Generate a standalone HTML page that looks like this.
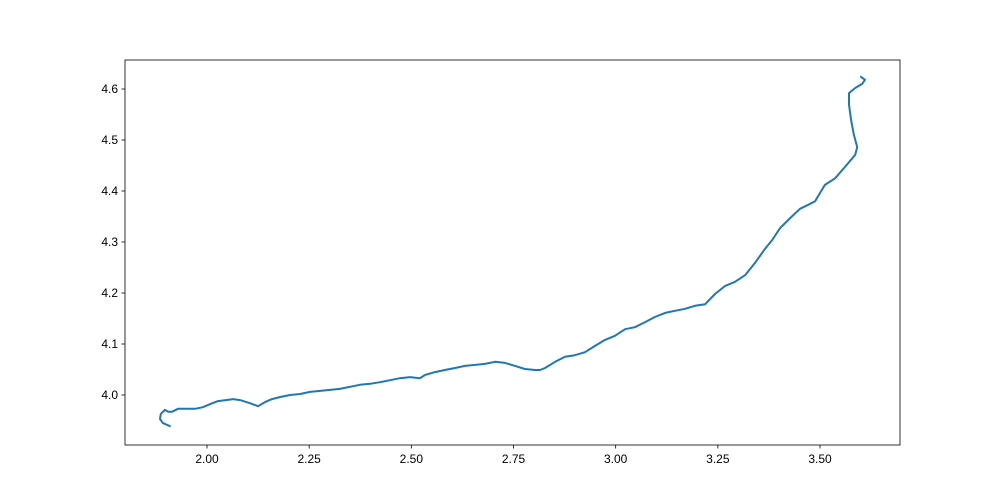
<!DOCTYPE html>
<html><head><meta charset="utf-8"><style>
body{margin:0;background:#fff;}
svg{display:block;font-family:"Liberation Sans","DejaVu Sans",sans-serif;}
</style></head><body>
<svg id="chart" width="1000" height="500" xmlns="http://www.w3.org/2000/svg">
<rect x="0" y="0" width="1000" height="500" fill="#fff"/>
<g id="plot"></g>
</svg>
<script>
const xValues=[1.909,1.892,1.885,1.887,1.897,1.905,1.914,1.929,1.946,1.971,1.990,2.007,2.027,2.046,2.064,2.081,2.105,2.125,2.142,2.159,2.179,2.203,2.228,2.252,2.277,2.301,2.325,2.350,2.374,2.399,2.423,2.448,2.472,2.497,2.521,2.533,2.558,2.582,2.607,2.631,2.656,2.680,2.705,2.729,2.754,2.778,2.803,2.815,2.827,2.852,2.876,2.900,2.925,2.949,2.974,2.998,3.023,3.047,3.072,3.096,3.121,3.145,3.170,3.194,3.219,3.243,3.268,3.292,3.317,3.341,3.365,3.383,3.402,3.427,3.451,3.476,3.488,3.500,3.512,3.537,3.561,3.586,3.591,3.583,3.576,3.571,3.571,3.586,3.603,3.610,3.600];
const yValues=[3.939,3.945,3.953,3.963,3.971,3.967,3.967,3.973,3.973,3.973,3.976,3.982,3.988,3.990,3.992,3.990,3.984,3.978,3.986,3.992,3.996,4.000,4.002,4.006,4.008,4.010,4.012,4.016,4.020,4.022,4.025,4.029,4.033,4.035,4.033,4.039,4.045,4.049,4.053,4.057,4.059,4.061,4.065,4.063,4.057,4.051,4.049,4.049,4.053,4.065,4.075,4.078,4.084,4.096,4.108,4.116,4.129,4.133,4.143,4.153,4.161,4.165,4.169,4.175,4.178,4.198,4.214,4.222,4.235,4.259,4.286,4.304,4.327,4.347,4.365,4.375,4.380,4.396,4.412,4.425,4.447,4.471,4.486,4.510,4.539,4.569,4.592,4.602,4.610,4.618,4.624];
const xTicks=[2.00,2.25,2.50,2.75,3.00,3.25,3.50];
const xTickLabels=["2.00","2.25","2.50","2.75","3.00","3.25","3.50"];
const yTicks=[4.0,4.1,4.2,4.3,4.4,4.5,4.6];
const yTickLabels=["4.0","4.1","4.2","4.3","4.4","4.5","4.6"];

const NS="http://www.w3.org/2000/svg";
const L=125,R=900,T=60,B=445;
function sx(v){return 207+(v-2)*408.67;}
function sy(v){return 395-(v-4)*510;}
const g=document.getElementById('plot');
function mk(tag,attrs){const e=document.createElementNS(NS,tag);for(const k in attrs)e.setAttribute(k,attrs[k]);g.appendChild(e);return e;}

const line=mk('polyline',{points:xValues.map((x,i)=>sx(x).toFixed(1)+','+sy(yValues[i]).toFixed(1)).join(' '),fill:'none',stroke:'#1f77b4','stroke-width':2,'stroke-linejoin':'round','stroke-linecap':'round'});



xTicks.forEach((v,i)=>{
  const t=mk('line',{x1:sx(v),x2:sx(v),y1:B,y2:B+3.5,stroke:'#000','stroke-width':0.8});
  
  
  const lb=mk('text',{x:sx(v),y:B+18,'text-anchor':'middle','font-size':12,fill:'#000'});
  lb.textContent=xTickLabels[i];
  
  
});
yTicks.forEach((v,i)=>{
  const t=mk('line',{x1:L-3.5,x2:L,y1:sy(v),y2:sy(v),stroke:'#000','stroke-width':0.8});
  
  
  const lb=mk('text',{x:L-7,y:sy(v)+4,'text-anchor':'end','font-size':12,fill:'#000'});
  lb.textContent=yTickLabels[i];
  
  
});
const frame=mk('rect',{x:L,y:T,width:R-L,height:B-T,fill:'none',stroke:'#000','stroke-width':0.8});


</script>
</body></html>
